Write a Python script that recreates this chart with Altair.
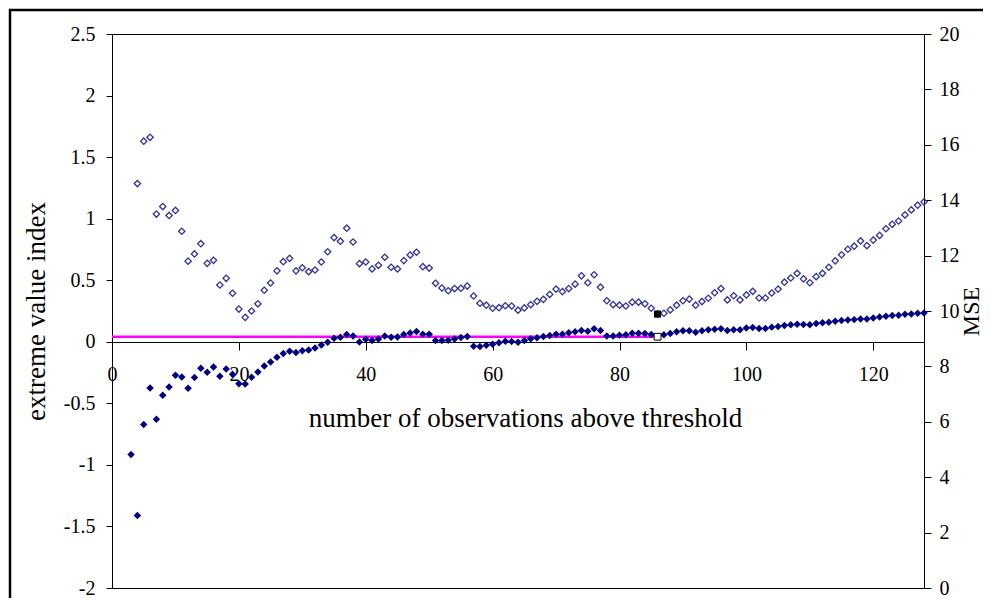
import altair as alt
import pandas as pd

# ---------------- data ----------------
k_evi = list(range(3, 129))
evi = [
    -0.915, -1.411, -0.671, -0.376, -0.630, -0.435, -0.367, -0.272, -0.286, -0.378,
    -0.291, -0.215, -0.248, -0.205, -0.280, -0.221, -0.264, -0.340, -0.343, -0.289,
    -0.246, -0.197, -0.164, -0.126, -0.096, -0.077, -0.088, -0.072, -0.067, -0.050,
    -0.026, -0.004, 0.028, 0.037, 0.059, 0.047, -0.002, 0.020, 0.010, 0.023,
    0.047, 0.037, 0.039, 0.059, 0.072, 0.083, 0.061, 0.061, 0.010, 0.010,
    0.012, 0.023, 0.034, 0.042, -0.036, -0.038, -0.028, -0.020, -0.008, 0.005,
    0.002, -0.003, 0.011, 0.024, 0.033, 0.043, 0.051, 0.062, 0.062, 0.073,
    0.081, 0.092, 0.086, 0.106, 0.092, 0.046, 0.046, 0.054, 0.057, 0.070,
    0.070, 0.067, 0.059, 0.041, 0.057, 0.067, 0.081, 0.089, 0.089, 0.078,
    0.089, 0.098, 0.102, 0.106, 0.092, 0.098, 0.098, 0.111, 0.116, 0.108,
    0.108, 0.119, 0.124, 0.133, 0.138, 0.143, 0.141, 0.138, 0.149, 0.154,
    0.159, 0.167, 0.172, 0.177, 0.180, 0.185, 0.185, 0.193, 0.202, 0.207,
    0.213, 0.215, 0.224, 0.226, 0.232, 0.234,
]

k_mse = list(range(4, 129))
mse = [
    14.60, 16.13, 16.27, 13.50, 13.77, 13.45, 13.63, 12.88, 11.80, 12.06,
    12.43, 11.72, 11.83, 10.94, 11.18, 10.64, 10.07, 9.77, 10.00, 10.26,
    10.75, 11.01, 11.45, 11.78, 11.90, 11.45, 11.56, 11.42, 11.48, 11.77,
    12.14, 12.65, 12.52, 12.99, 12.49, 11.71, 11.77, 11.52, 11.65, 11.94,
    11.58, 11.52, 11.82, 12.02, 12.12, 11.60, 11.55, 11.00, 10.83, 10.73,
    10.81, 10.82, 10.90, 10.54, 10.28, 10.21, 10.10, 10.12, 10.19, 10.18,
    10.03, 10.11, 10.23, 10.35, 10.42, 10.60, 10.79, 10.70, 10.81, 10.97,
    11.27, 11.02, 11.31, 10.86, 10.37, 10.23, 10.21, 10.18, 10.32, 10.32,
    10.26, 10.10, 9.89, 9.92, 10.04, 10.21, 10.37, 10.43, 10.21, 10.34,
    10.46, 10.66, 10.81, 10.40, 10.55, 10.40, 10.58, 10.71, 10.47, 10.47,
    10.65, 10.79, 11.04, 11.19, 11.36, 11.16, 11.02, 11.24, 11.36, 11.58,
    11.81, 12.03, 12.23, 12.34, 12.53, 12.36, 12.56, 12.73, 12.97, 13.13,
    13.25, 13.47, 13.65, 13.82, 13.94,
]

k_opt = [86]
evi_opt = [0.041]
mse_opt = [9.89]
k_start = [0]

x_ticks = [0, 20, 40, 60, 80, 100, 120]
evi_ticks = [-2, -1.5, -1, -0.5, 0, 0.5, 1, 1.5, 2, 2.5]
mse_ticks = [0, 2, 4, 6, 8, 10, 12, 14, 16, 18, 20]

df_evi = pd.DataFrame({"k": k_evi, "evi": evi})
df_mse = pd.DataFrame({"k": k_mse, "mse": mse})
df_opt = pd.DataFrame({"k": k_opt, "k0": k_start, "evi": evi_opt, "mse": mse_opt})

# ---------------- layout ----------------
W, H = 812, 554
FONT = "Liberation Serif"

x_scale = alt.Scale(domain=[0, 128], nice=False, zero=False)
x_axis = alt.Axis(
    values=x_ticks, orient="bottom", offset=-round(H * 2 / 4.5),
    title="number of observations above threshold", titleFontSize=27,
    titleX=W / 2 + 7,
    tickSize=8, labelPadding=14, titlePadding=21, labelFlush=False,
    labelOverlap=False,
)

evi_scale = alt.Scale(domain=[-2, 2.5], nice=False, zero=False)
evi_axis = alt.Axis(
    orient="left", values=evi_ticks, labelExpr="datum.value + ''",
    title="extreme value index", titleFontSize=27,
    tickSize=6, labelPadding=11, titlePadding=13,
)

mse_scale = alt.Scale(domain=[0, 20], nice=False, zero=False)
mse_axis = alt.Axis(
    orient="right", values=mse_ticks, title="MSE", titleAngle=270,
    titleBaseline="top", titleFontSize=24,
    tickSize=7, labelPadding=8, titlePadding=0,
)

X = lambda f: alt.X(f, type="quantitative", scale=x_scale, axis=x_axis)
YL = alt.Y("evi:Q", scale=evi_scale, axis=evi_axis)
YR = alt.Y("mse:Q", scale=mse_scale, axis=mse_axis)

frame = alt.Chart(df_opt).mark_rect(
    filled=False, stroke="black", strokeWidth=2.5
).encode(
    x=alt.value(-102), x2=alt.value(W + 200),
    y=alt.value(-24), y2=alt.value(H + 100),
)

rule = alt.Chart(df_opt).mark_rule(color="#FF00FF", strokeWidth=2.5).encode(
    x=X("k0"), x2="k:Q", y=YL
)

evi_pts = alt.Chart(df_evi).mark_point(
    shape="diamond", filled=True, size=56, color="#000080", opacity=1
).encode(x=X("k"), y=YL)

open_sq = alt.Chart(df_opt).mark_point(
    shape="square", filled=True, size=46, fill="white", stroke="black",
    strokeWidth=1, opacity=1
).encode(x=X("k"), y=YL)

mse_pts = alt.Chart(df_mse).mark_point(
    shape="diamond", filled=False, size=40, color="#333399",
    strokeWidth=1.3, opacity=1
).encode(x=X("k"), y=YR)

black_sq = alt.Chart(df_opt).mark_point(
    shape="square", filled=True, size=50, color="black", opacity=1
).encode(x=X("k"), y=YR)

left = alt.layer(frame, rule, evi_pts, open_sq)
right = alt.layer(mse_pts, black_sq)

chart = alt.layer(left, right).resolve_scale(y="independent").properties(
    width=W, height=H,
    autosize=alt.AutoSizeParams(type="none"),
    padding={"left": 104, "top": 26, "right": 59, "bottom": 10},
).configure_view(
    stroke="black", strokeWidth=1
).configure_axis(
    labelFont=FONT, titleFont=FONT, labelFontSize=20,
    titleFontWeight="normal", labelColor="black", titleColor="black",
    domainColor="black", tickColor="black", grid=False,
)

chart.save("out.html", embed_options={"renderer": "svg", "actions": False})
